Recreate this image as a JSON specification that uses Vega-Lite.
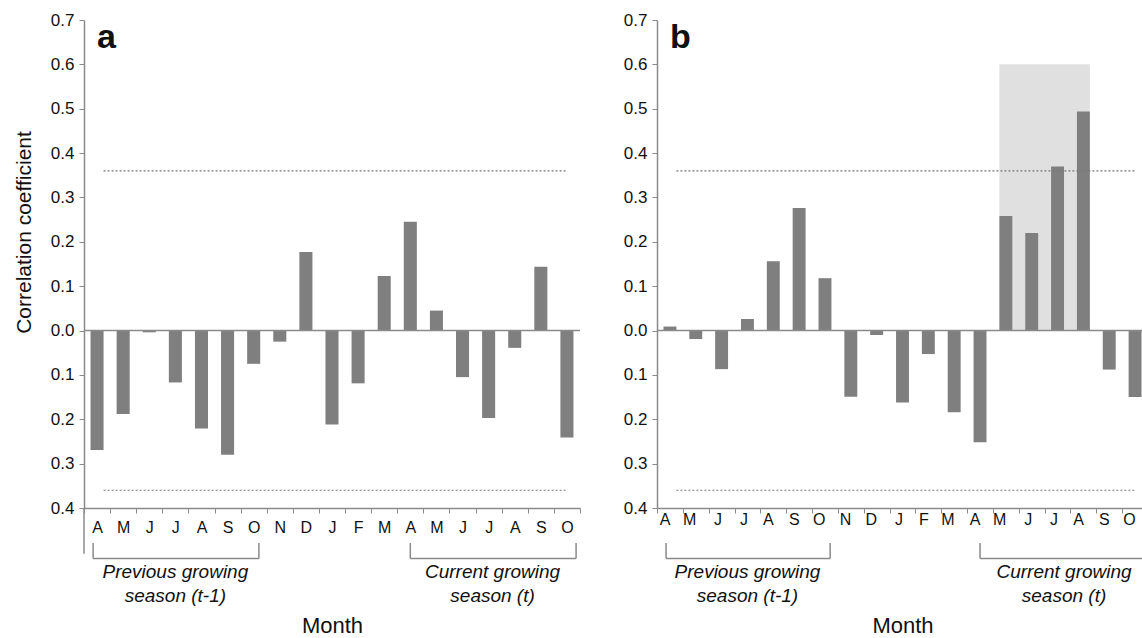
{
  "$schema": "https://vega.github.io/schema/vega-lite/v6.json",
  "background": "white",
  "padding": {"left": 13, "top": 11, "right": 0, "bottom": 0},
  "data": {"values": [{}]},
  "datasets": {
    "a": [
      {"m": "A0", "r": -0.269}, {"m": "M0", "r": -0.188}, {"m": "J0", "r": -0.004},
      {"m": "J1", "r": -0.117}, {"m": "A1", "r": -0.221}, {"m": "S0", "r": -0.280},
      {"m": "O0", "r": -0.075}, {"m": "N0", "r": -0.025}, {"m": "D0", "r": 0.177},
      {"m": "J2", "r": -0.212}, {"m": "F0", "r": -0.119}, {"m": "M1", "r": 0.123},
      {"m": "A2", "r": 0.245}, {"m": "M2", "r": 0.045}, {"m": "J3", "r": -0.105},
      {"m": "J4", "r": -0.197}, {"m": "A3", "r": -0.039}, {"m": "S1", "r": 0.144},
      {"m": "O1", "r": -0.241}
    ],
    "b": [
      {"m": "A0", "r": 0.009}, {"m": "M0", "r": -0.019}, {"m": "J0", "r": -0.087},
      {"m": "J1", "r": 0.026}, {"m": "A1", "r": 0.156}, {"m": "S0", "r": 0.276},
      {"m": "O0", "r": 0.118}, {"m": "N0", "r": -0.149}, {"m": "D0", "r": -0.010},
      {"m": "J2", "r": -0.162}, {"m": "F0", "r": -0.053}, {"m": "M1", "r": -0.184},
      {"m": "A2", "r": -0.252}, {"m": "M2", "r": 0.258}, {"m": "J3", "r": 0.220},
      {"m": "J4", "r": 0.370}, {"m": "A3", "r": 0.494}, {"m": "S1", "r": -0.088},
      {"m": "O1", "r": -0.150}
    ]
  },
  "config": {
    "font": "Liberation Sans",
    "view": {"stroke": null},
    "axis": {
      "domainColor": "#8a8a8a",
      "tickColor": "#8a8a8a",
      "labelColor": "#111",
      "titleColor": "#111",
      "labelFont": "Liberation Sans",
      "titleFont": "Liberation Sans",
      "labelFontSize": 17,
      "titleFontSize": 21,
      "titleFontWeight": "normal",
      "grid": false
    }
  },
  "spacing": 42,
  "hconcat": [
    {
      "width": 496,
      "height": 488,
      "layer": [
        {
          "data": {"name": "a"},
          "mark": {"type": "bar", "color": "#7f7f7f", "width": {"band": 0.5}},
          "encoding": {
            "x": {
              "field": "m", "type": "nominal",
              "scale": {"domain": ["A0","M0","J0","J1","A1","S0","O0","N0","D0","J2","F0","M1","A2","M2","J3","J4","A3","S1","O1"], "paddingInner": 0, "paddingOuter": 0},
              "axis": {"title": "Month", "titleFontSize": 22, "titleBaseline": "alphabetic", "titleY": 124, "labelAngle": 0, "labelFontSize": 16, "labelExpr": "substring(datum.label,0,1)", "tickBand": "extent", "tickSize": 5, "labelPadding": 6, "domainWidth": 1.5}
            },
            "y": {
              "field": "r", "type": "quantitative",
              "scale": {"domain": [-0.4, 0.7], "nice": false, "zero": false},
              "axis": {"title": "Correlation coefficient", "titleY": 212, "values": [-0.4,-0.3,-0.2,-0.1,0,0.1,0.2,0.3,0.4,0.5,0.6,0.7], "labelExpr": "format(abs(datum.value), '.1f')", "tickSize": 5, "labelPadding": 5, "titlePadding": 16, "domainWidth": 1.5}
            }
          }
        },
        {
          "mark": {"type": "rule", "color": "#8a8a8a", "strokeWidth": 1.5},
          "encoding": {"y": {"datum": 0}}
        },
        {
          "mark": {"type": "rule", "color": "#777", "strokeDash": [2, 2], "strokeWidth": 1.2},
          "encoding": {"y": {"datum": 0.36}, "x": {"datum": "A0", "bandPosition": 0.75}, "x2": {"datum": "O1", "bandPosition": 0.5}}
        },
        {
          "mark": {"type": "rule", "color": "#777", "strokeDash": [2, 2], "strokeWidth": 1.2},
          "encoding": {"y": {"datum": -0.36}, "x": {"datum": "A0", "bandPosition": 0.75}, "x2": {"datum": "O1", "bandPosition": 0.5}}
        },
        {
          "mark": {"type": "rule", "color": "#8a8a8a", "strokeWidth": 1.5},
          "encoding": {"x": {"datum": "A0", "bandPosition": 0}, "y": {"datum": -0.4}, "y2": {"datum": -0.503}}
        },
        {
          "mark": {"type": "rule", "color": "#8a8a8a", "strokeWidth": 1.5},
          "encoding": {"x": {"datum": "A0", "bandPosition": 0.35}, "x2": {"datum": "O0", "bandPosition": 0.7}, "y": {"datum": -0.514}}
        },
        {
          "mark": {"type": "rule", "color": "#8a8a8a", "strokeWidth": 1.5},
          "encoding": {"x": {"datum": "A0", "bandPosition": 0.35}, "y": {"datum": -0.479}, "y2": {"datum": -0.514}}
        },
        {
          "mark": {"type": "rule", "color": "#8a8a8a", "strokeWidth": 1.5},
          "encoding": {"x": {"datum": "O0", "bandPosition": 0.7}, "y": {"datum": -0.479}, "y2": {"datum": -0.514}}
        },
        {
          "mark": {"type": "rule", "color": "#8a8a8a", "strokeWidth": 1.5},
          "encoding": {"x": {"datum": "A2", "bandPosition": 0.5}, "x2": {"datum": "O1", "bandPosition": 0.85}, "y": {"datum": -0.514}}
        },
        {
          "mark": {"type": "rule", "color": "#8a8a8a", "strokeWidth": 1.5},
          "encoding": {"x": {"datum": "A2", "bandPosition": 0.5}, "y": {"datum": -0.479}, "y2": {"datum": -0.514}}
        },
        {
          "mark": {"type": "rule", "color": "#8a8a8a", "strokeWidth": 1.5},
          "encoding": {"x": {"datum": "O1", "bandPosition": 0.85}, "y": {"datum": -0.479}, "y2": {"datum": -0.514}}
        },
        {
          "mark": {"type": "text", "fontStyle": "italic", "fontSize": 19, "color": "#111", "lineHeight": 24, "baseline": "alphabetic", "text": ["Previous growing", "season (t-1)"]},
          "encoding": {"x": {"datum": "J1", "bandPosition": 0.5}, "y": {"datum": -0.558}}
        },
        {
          "mark": {"type": "text", "fontStyle": "italic", "fontSize": 19, "color": "#111", "lineHeight": 24, "baseline": "alphabetic", "text": ["Current growing", "season (t)"]},
          "encoding": {"x": {"datum": "J4", "bandPosition": 0.65}, "y": {"datum": -0.558}}
        },
        {
          "mark": {"type": "text", "fontWeight": "bold", "fontSize": 34, "color": "#111", "align": "left", "baseline": "alphabetic", "text": "a"},
          "encoding": {"x": {"datum": "A0", "bandPosition": 0.5}, "y": {"datum": 0.637}}
        }
      ]
    },
    {
      "width": 491,
      "height": 488,
      "layer": [
        {
          "mark": {"type": "rect", "color": "#e0e0e0"},
          "encoding": {"x": {"datum": "M2", "bandPosition": 0.25}, "x2": {"datum": "A3", "bandPosition": 0.75}, "y": {"datum": 0}, "y2": {"datum": 0.6}}
        },
        {
          "data": {"name": "b"},
          "mark": {"type": "bar", "color": "#7f7f7f", "width": {"band": 0.5}},
          "encoding": {
            "x": {
              "field": "m", "type": "nominal",
              "scale": {"domain": ["A0","M0","J0","J1","A1","S0","O0","N0","D0","J2","F0","M1","A2","M2","J3","J4","A3","S1","O1"], "paddingInner": 0, "paddingOuter": 0},
              "axis": {"title": "Month", "titleFontSize": 22, "titleBaseline": "alphabetic", "titleY": 124, "labelAngle": 0, "labelFontSize": 16, "labelExpr": "substring(datum.label,0,1)", "tickBand": "extent", "tickSize": 5, "labelPadding": 6, "domainWidth": 1.5}
            },
            "y": {
              "field": "r", "type": "quantitative",
              "scale": {"domain": [-0.4, 0.7], "nice": false, "zero": false},
              "axis": {"title": null, "values": [-0.4,-0.3,-0.2,-0.1,0,0.1,0.2,0.3,0.4,0.5,0.6,0.7], "labelExpr": "format(abs(datum.value), '.1f')", "tickSize": 5, "labelPadding": 5, "domainWidth": 1.5}
            }
          }
        },
        {
          "mark": {"type": "rule", "color": "#8a8a8a", "strokeWidth": 1.5},
          "encoding": {"y": {"datum": 0}}
        },
        {
          "mark": {"type": "rule", "color": "#777", "strokeDash": [2, 2], "strokeWidth": 1.2},
          "encoding": {"y": {"datum": 0.36}, "x": {"datum": "A0", "bandPosition": 0.75}, "x2": {"datum": "O1", "bandPosition": 0.5}}
        },
        {
          "mark": {"type": "rule", "color": "#777", "strokeDash": [2, 2], "strokeWidth": 1.2},
          "encoding": {"y": {"datum": -0.36}, "x": {"datum": "A0", "bandPosition": 0.75}, "x2": {"datum": "O1", "bandPosition": 0.5}}
        },
        {
          "mark": {"type": "rule", "color": "#8a8a8a", "strokeWidth": 1.5},
          "encoding": {"x": {"datum": "A0", "bandPosition": 0.35}, "x2": {"datum": "O0", "bandPosition": 0.7}, "y": {"datum": -0.514}}
        },
        {
          "mark": {"type": "rule", "color": "#8a8a8a", "strokeWidth": 1.5},
          "encoding": {"x": {"datum": "A0", "bandPosition": 0.35}, "y": {"datum": -0.479}, "y2": {"datum": -0.514}}
        },
        {
          "mark": {"type": "rule", "color": "#8a8a8a", "strokeWidth": 1.5},
          "encoding": {"x": {"datum": "O0", "bandPosition": 0.7}, "y": {"datum": -0.479}, "y2": {"datum": -0.514}}
        },
        {
          "mark": {"type": "rule", "color": "#8a8a8a", "strokeWidth": 1.5},
          "encoding": {"x": {"datum": "A2", "bandPosition": 0.5}, "x2": {"datum": "O1", "bandPosition": 1}, "y": {"datum": -0.514}}
        },
        {
          "mark": {"type": "rule", "color": "#8a8a8a", "strokeWidth": 1.5},
          "encoding": {"x": {"datum": "A2", "bandPosition": 0.5}, "y": {"datum": -0.479}, "y2": {"datum": -0.514}}
        },
        {
          "mark": {"type": "text", "fontStyle": "italic", "fontSize": 19, "color": "#111", "lineHeight": 24, "baseline": "alphabetic", "text": ["Previous growing", "season (t-1)"]},
          "encoding": {"x": {"datum": "J1", "bandPosition": 0.5}, "y": {"datum": -0.558}}
        },
        {
          "mark": {"type": "text", "fontStyle": "italic", "fontSize": 19, "color": "#111", "lineHeight": 24, "baseline": "alphabetic", "text": ["Current growing", "season (t)"]},
          "encoding": {"x": {"datum": "J4", "bandPosition": 0.75}, "y": {"datum": -0.558}}
        },
        {
          "mark": {"type": "text", "fontWeight": "bold", "fontSize": 34, "color": "#111", "align": "left", "baseline": "alphabetic", "text": "b"},
          "encoding": {"x": {"datum": "A0", "bandPosition": 0.5}, "y": {"datum": 0.637}}
        }
      ]
    }
  ]
}
